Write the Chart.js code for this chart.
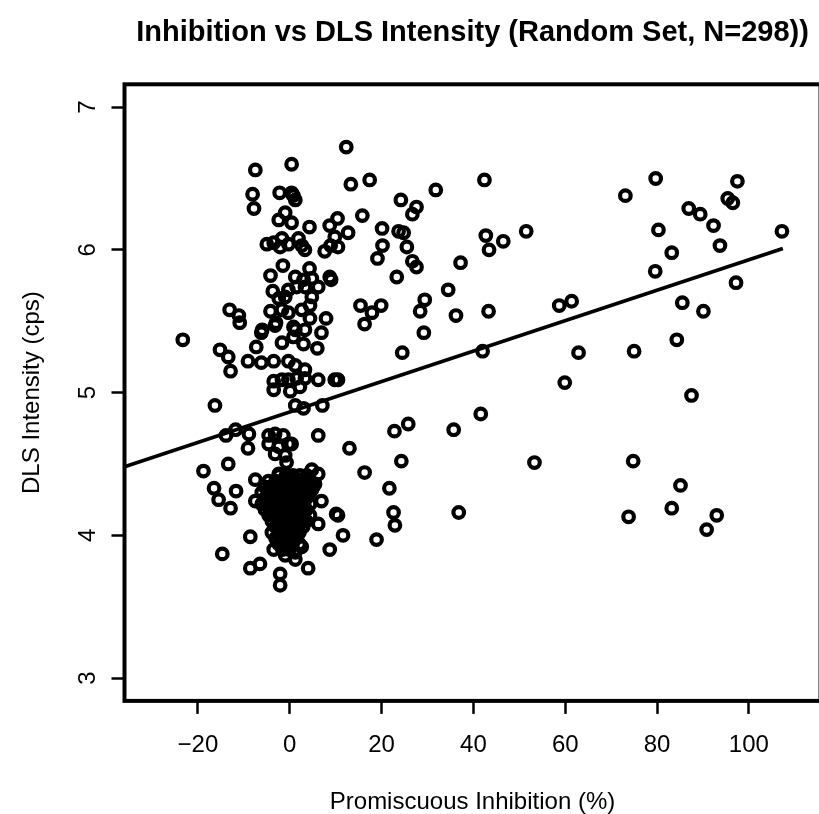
<!DOCTYPE html>
<html>
<head>
<meta charset="utf-8">
<title>Inhibition vs DLS Intensity</title>
<script src="https://cdn.jsdelivr.net/npm/chart.js@4.4.0/dist/chart.umd.min.js"></script>
<style>
  html, body { margin: 0; padding: 0; background: #fff; overflow: hidden; }
  #wrap { width: 819px; height: 814px; overflow: hidden; }
  canvas { display: block; }
</style>
</head>
<body>
<div id="wrap"><canvas id="scatter" width="830" height="814"></canvas></div>
<script>
// Promiscuous inhibition (%) per compound
var inhibition = [
  // upper-left group
  12.3, -7.5, 0.4, 13.3, -8.1, -7.8, -2.2, 0.4, 1.2, 0.8, -1.0, -2.4, 0.4, 4.3, 8.7, 10.4, 12.7,
  -5.0, -1.7, -2.1, -0.3, 1.9, 2.6, 3.3, 7.6, 8.9, 9.8, 10.5, -3.5, -1.5, 4.3, -4.2, 1.2, 3.0,
  4.8, 8.7, 9.0, -3.7, -0.3, 1.5, 3.3, 6.2, -2.4, -1.0, 4.8, 4.4, -13.1, -11.1, -10.9, -4.2,
  -1.7, -0.3, 2.6, 4.4, 7.9, -3.0, 0.8, -6.0, -3.2,
  // middle-left group
  -23.3, -6.2, 1.2, 3.3, 6.9, 0.8, -7.3, -1.7, 3.0, 6.0, -15.2, -13.4, -12.9, -9.1, -6.2, -3.5,
  -0.3, 1.2, 3.3, -3.5, -1.7, -3.5, -0.3, 1.5, 2.2, 0.1, 3.3, 6.2, 9.8, 10.5, -16.3, 1.2, 3.0,
  7.1, -13.9, -11.8, -8.9, -4.6, -3.2, -1.4, -0.3, -2.4, -4.6, 6.2, -9.1, 13.0, 0.4, -3.2, -1.0,
  -18.8, -13.4, -0.7, -7.5, -2.4, -0.3, 4.8, 6.2, -16.5, -15.5, -11.7, -12.9, -7.5, 5.5, 4.8,
  6.9, 10.1, 10.5, 6.2, 11.6, 8.7, -8.6, -14.7, -8.6, -6.5, -2.1, 1.2, 4.0, -2.1, -3.5, -1.0,
  1.2, 2.6,
  // 15-65 %
  17.4, 42.4, 31.8, 24.2, 27.6, 26.7, 15.8, 20.1, 23.7, 24.8, 20.2, 19.1, 25.5, 26.7, 27.6, 23.3,
  42.7, 43.4, 46.5, 51.5, 37.2, 34.5, 15.4, 17.9, 19.9, 16.3, 29.4, 28.4, 36.2, 43.3, 29.2, 24.5,
  42.0, 58.7, 61.4, 62.9,
  // above 60 %
  79.7, 73.1, 97.5, 95.4, 96.5, 86.9, 89.4, 92.3, 107.2, 80.3, 93.7, 83.2, 79.6, 97.2, 85.5, 90.1,
  84.3, 75.0, 59.9, 87.5, 74.8, 85.1, 83.2, 73.8, 93.0, 90.8,
  // lower middle
  41.6, 35.7, 22.8, 25.8, 24.3, 16.3, 21.7, 53.3, 36.8, 22.6, 22.9, 18.9,
  // dense cluster near 0 %
  -2.3, -0.8, 0.7, 2.2, 3.7,
  -4.6, -3.1, -1.6, -0.1, 1.4, 2.9, 4.4,
  -5.4, -3.9, -2.4, -0.9, 0.6, 2.1, 3.6, 5.1,
  -6.1, -4.6, -3.1, -1.6, -0.1, 1.4, 2.9, 4.4,
  -5.4, -3.9, -2.4, -0.9, 0.6, 2.1, 3.6,
  -6.1, -4.6, -3.1, -1.6, -0.1, 1.4, 2.9, 4.4,
  -5.4, -3.9, -2.4, -0.9, 0.6, 2.1, 3.6,
  -4.6, -3.1, -1.6, -0.1, 1.4, 2.9, 4.4,
  -3.9, -2.4, -0.9, 0.6, 2.1, 3.6,
  -3.1, -1.6, -0.1, 1.4, 2.9,
  -3.9, -2.4, -0.9, 0.6, 2.1,
  -3.1, -1.6, -0.1, 1.4,
  -2.4, -0.9, 0.6, 2.1,
  -1.6, -0.1
];

// DLS intensity (cps), same order
var intensity = [
  6.72, 6.56, 6.60, 6.46, 6.39, 6.29, 6.40, 6.40, 6.35, 6.38, 6.26, 6.21, 6.19, 6.16, 6.17, 6.22, 6.12,
  6.04, 6.08, 6.02, 6.04, 6.08, 6.03, 6.00, 5.99, 6.03, 6.09, 6.02, 6.05, 5.89, 5.87, 5.82, 5.81, 5.79,
  5.80, 5.81, 5.79, 5.71, 5.72, 5.74, 5.74, 5.74, 5.66, 5.67, 5.67, 5.61, 5.58, 5.54, 5.49, 5.57,
  5.58, 5.56, 5.58, 5.52, 5.52, 5.49, 5.46, 5.44, 5.47,

  5.37, 5.42, 5.44, 5.44, 5.42, 5.39, 5.32, 5.35, 5.34, 5.31, 5.30, 5.25, 5.15, 5.22, 5.21, 5.22,
  5.22, 5.19, 5.16, 5.08, 5.09, 5.02, 5.09, 5.10, 5.04, 5.01, 5.10, 5.09, 5.09, 5.09, 4.91, 4.91, 4.89,
  4.91, 4.70, 4.74, 4.71, 4.70, 4.71, 4.70, 4.64, 4.62, 4.64, 4.70, 4.61, 4.61, 4.64, 4.57, 4.56,
  4.45, 4.50, 4.51, 4.39, 4.43, 4.41, 4.46, 4.43, 4.33, 4.25, 4.31, 4.19, 4.24, 4.36, 4.32,
  4.24, 4.15, 4.14, 4.08, 4.00, 3.90, 3.99, 3.87, 3.77, 3.80, 3.73, 3.83, 3.77, 3.65, 3.90, 3.86,
  3.88, 3.92,

  6.49, 6.49, 6.42, 6.35, 6.30, 6.25, 6.24, 6.15, 6.13, 6.12, 6.03, 5.94, 6.02, 5.92, 5.88, 5.81,
  6.10, 6.00, 6.06, 6.13, 5.91, 5.72, 5.61, 5.56, 5.61, 5.48, 5.65, 5.57, 5.54, 5.57, 5.42, 5.28,
  5.29, 5.61, 5.64, 5.28,

  6.50, 6.38, 6.48, 6.36, 6.33, 6.29, 6.25, 6.17, 6.13, 6.14, 6.03, 5.98, 5.85, 5.77, 5.63, 5.57,
  5.37, 5.29, 5.07, 4.98, 4.52, 4.35, 4.19, 4.13, 4.14, 4.04,

  4.85, 4.74, 4.73, 4.78, 4.52, 4.44, 4.33, 4.51, 4.16, 4.16, 4.07, 3.97,

  4.42, 4.42, 4.42, 4.42, 4.42,
  4.38, 4.38, 4.38, 4.38, 4.38, 4.38, 4.38,
  4.34, 4.34, 4.34, 4.34, 4.34, 4.34, 4.34, 4.34,
  4.30, 4.30, 4.30, 4.30, 4.30, 4.30, 4.30, 4.30,
  4.26, 4.26, 4.26, 4.26, 4.26, 4.26, 4.26,
  4.22, 4.22, 4.22, 4.22, 4.22, 4.22, 4.22, 4.22,
  4.18, 4.18, 4.18, 4.18, 4.18, 4.18, 4.18,
  4.14, 4.14, 4.14, 4.14, 4.14, 4.14, 4.14,
  4.10, 4.10, 4.10, 4.10, 4.10, 4.10,
  4.06, 4.06, 4.06, 4.06, 4.06,
  4.02, 4.02, 4.02, 4.02, 4.02,
  3.98, 3.98, 3.98, 3.98,
  3.94, 3.94, 3.94, 3.94,
  3.90, 3.90
];

// fitted regression line, drawn between these two ends
var fitX = [-36, 107.4];
var fitY = [4.48, 6.01];

var xTicks = [-20, 0, 20, 40, 60, 80, 100];
var yTicks = [3, 4, 5, 6, 7];

var FONT = '"Liberation Sans", Arial, Helvetica, sans-serif';

var points = inhibition.map(function (x, i) { return { x: x, y: intensity[i] }; });
var fitLine = fitX.map(function (x, i) { return { x: x, y: fitY[i] }; });

// R style box round the plot region
var plotBox = {
  id: 'plotBox',
  afterDatasetsDraw: function (chart) {
    var a = chart.chartArea, ctx = chart.ctx;
    ctx.save();
    ctx.lineWidth = 4;
    ctx.strokeStyle = '#000';
    ctx.strokeRect(a.left, a.top, a.right - a.left, a.bottom - a.top);
    ctx.restore();
  }
};

new Chart(document.getElementById('scatter'), {
  type: 'scatter',
  data: {
    datasets: [{
      type: 'line',
      data: fitLine,
      borderColor: '#000',
      borderWidth: 3.8,
      pointRadius: 0,
      fill: false
    }, {
      data: points,
      pointStyle: 'circle',
      pointRadius: 5.3,
      borderWidth: 4.2,
      borderColor: '#000',
      backgroundColor: 'rgba(0,0,0,0)'
    }]
  },
  options: {
    responsive: false,
    animation: false,
    layout: { padding: { left: 0, right: 3, top: 0, bottom: 0 } },
    plugins: {
      legend: { display: false },
      tooltip: { enabled: false },
      title: {
        display: true,
        fullSize: false,
        text: 'Inhibition vs DLS Intensity (Random Set, N=298))',
        color: '#000',
        font: { family: FONT, size: 29, weight: 'bold', lineHeight: 1.2 },
        padding: { top: 15.7, bottom: 33.8 }
      }
    },
    scales: {
      x: {
        type: 'linear',
        min: -36,
        max: 115.6,
        afterBuildTicks: function (s) { s.ticks = xTicks.map(function (v) { return { value: v }; }); },
        afterFit: function (s) { s.height = 113.1; },
        border: { display: false },
        grid: { drawOnChartArea: false, drawTicks: true, tickLength: 13, tickWidth: 2.5, tickColor: '#000' },
        ticks: {
          color: '#000',
          font: { family: FONT, size: 24 },
          padding: 17,
          maxRotation: 0,
          autoSkip: false,
          callback: function (v) { return v < 0 ? '\u2212' + Math.abs(v) : String(v); }
        },
        title: {
          display: true,
          text: 'Promiscuous Inhibition (%)',
          color: '#000',
          font: { family: FONT, size: 24, lineHeight: 1 },
          padding: { top: 0, bottom: 0 }
        }
      },
      y: {
        type: 'linear',
        min: 2.84,
        max: 7.16,
        afterBuildTicks: function (s) { s.ticks = yTicks.map(function (v) { return { value: v }; }); },
        afterFit: function (s) { s.width = 124.5; },
        border: { display: false },
        grid: { drawOnChartArea: false, drawTicks: true, tickLength: 13, tickWidth: 2.5, tickColor: '#000' },
        ticks: {
          color: '#000',
          font: { family: FONT, size: 24 },
          padding: 16,
          minRotation: 90,
          maxRotation: 90,
          crossAlign: 'center',
          autoSkip: false
        },
        title: {
          display: true,
          text: 'DLS Intensity (cps)',
          color: '#000',
          font: { family: FONT, size: 24, lineHeight: 1 },
          padding: { top: 20, bottom: 0 }
        }
      }
    }
  },
  plugins: [plotBox]
});
</script>
</body>
</html>
